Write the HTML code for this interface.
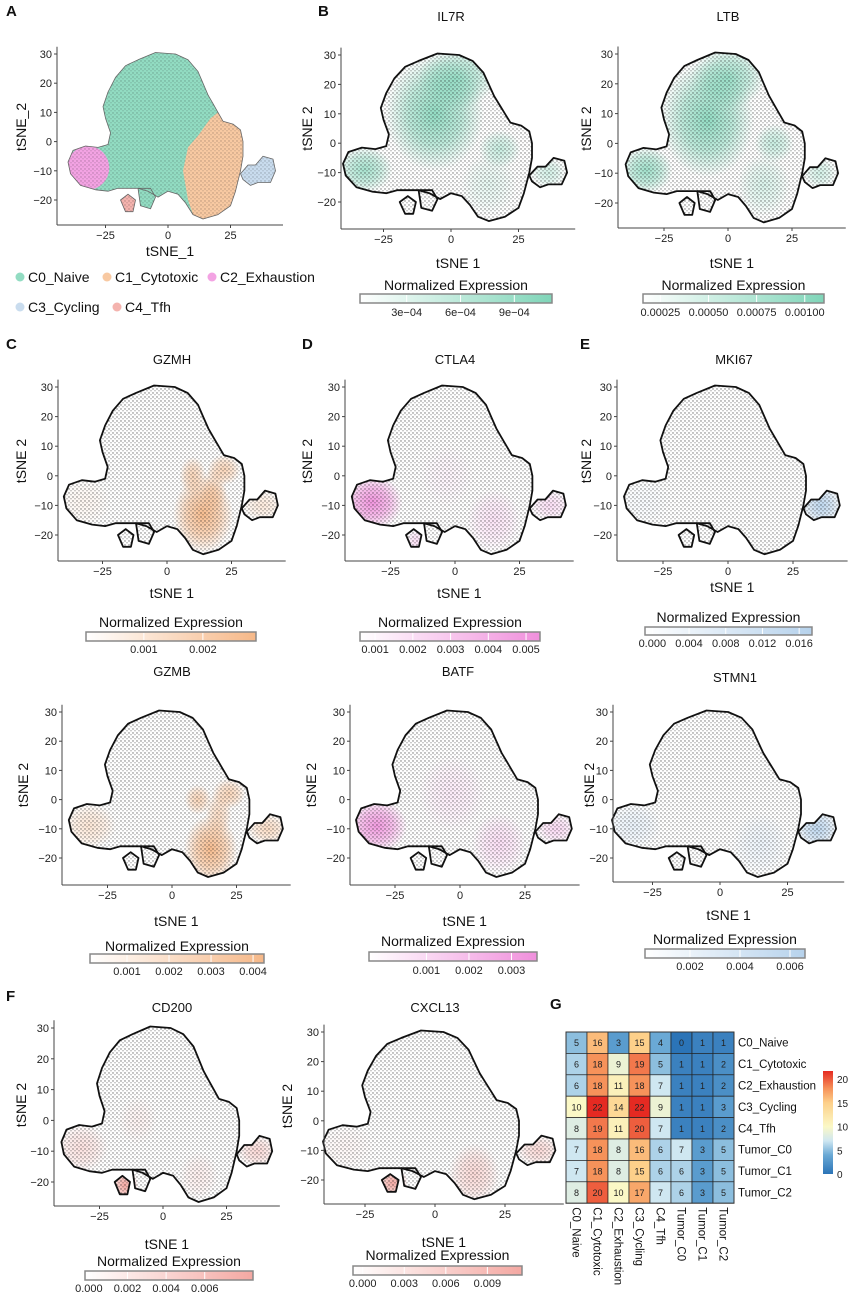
<!DOCTYPE html>
<html><head><meta charset="utf-8"><style>
html,body{margin:0;padding:0;background:#fff}
svg{display:block;font-family:"Liberation Sans",Arial,sans-serif}
</style></head><body>
<svg id="fig" width="851" height="1295" viewBox="0 0 851 1295" xmlns="http://www.w3.org/2000/svg">
<defs>
<pattern id="dots" width="4" height="4" patternUnits="userSpaceOnUse">
<circle cx="1" cy="1" r="0.7" fill="#111"/><circle cx="3" cy="2.8" r="0.6" fill="#222"/>
</pattern>
</defs>
</svg>
<script>
// ---------- heatmap data (panel G) ----------
const hmRows = ["C0_Naive","C1_Cytotoxic","C2_Exhaustion","C3_Cycling","C4_Tfh","Tumor_C0","Tumor_C1","Tumor_C2"];
const hmCols = ["C0_Naive","C1_Cytotoxic","C2_Exhaustion","C3_Cycling","C4_Tfh","Tumor_C0","Tumor_C1","Tumor_C2"];
const hmRow0 = [5,16,3,15,4,0,1,1];
const hmRow1 = [6,18,9,19,5,1,1,2];
const hmRow2 = [6,18,11,18,7,1,1,2];
const hmRow3 = [10,22,14,22,9,1,1,3];
const hmRow4 = [8,19,11,20,7,1,1,2];
const hmRow5 = [7,18,8,16,6,7,3,5];
const hmRow6 = [7,18,8,15,6,6,3,5];
const hmRow7 = [8,20,10,17,7,6,3,5];
const hmScaleTicks = [0,5,10,15,20];
// ---------- tSNE axis ticks ----------
const xTicks = [-25,0,25];
const yTicks = [-20,-10,0,10,20,30];
// ---------- colourbar tick labels ----------
const cbIL7R = [3e-4,6e-4,9e-4], cbIL7RLab = ["3e\u221204","6e\u221204","9e\u221204"];
const cbLTB = [0.00025,0.0005,0.00075,0.001], cbLTBLab = ["0.00025","0.00050","0.00075","0.00100"];
const cbGZMH = [0.001,0.002], cbGZMHLab = ["0.001","0.002"];
const cbCTLA4 = [0.001,0.002,0.003,0.004,0.005], cbCTLA4Lab = ["0.001","0.002","0.003","0.004","0.005"];
const cbMKI67 = [0,0.004,0.008,0.012,0.016], cbMKI67Lab = ["0.000","0.004","0.008","0.012","0.016"];
const cbGZMB = [0.001,0.002,0.003,0.004], cbGZMBLab = ["0.001","0.002","0.003","0.004"];
const cbBATF = [0.001,0.002,0.003], cbBATFLab = ["0.001","0.002","0.003"];
const cbSTMN1 = [0.002,0.004,0.006], cbSTMN1Lab = ["0.002","0.004","0.006"];
const cbCD200 = [0,0.002,0.004,0.006], cbCD200Lab = ["0.000","0.002","0.004","0.006"];
const cbCXCL13 = [0,0.003,0.006,0.009], cbCXCL13Lab = ["0.000","0.003","0.006","0.009"];
// ---------- tSNE cluster outline (data coords) ----------
const shapeMain = [[-12,28],[-5,30.5],[3,30],[8,28],[12,24],[14,20],[16,16],[18,13],[20,10],[22,7],[26,6],[29,4],[30,0],[30,-5],[29,-10],[27,-17],[25,-22],[20,-25],[14,-26.5],[10,-25],[7,-21],[4,-18],[0,-17],[-4,-19],[-8,-17],[-12,-16],[-16,-16],[-20,-16],[-24,-17],[-29,-16.5],[-35,-15],[-39,-11],[-40,-7],[-38,-3],[-33,-1.5],[-28,-2],[-24,-1],[-23,3],[-25,8],[-26,12],[-24,17],[-21,22],[-17,26]];
const shapeLow = [[-12,-16],[-7,-16],[-5,-19],[-7,-23],[-11,-22]];
const shapeTfh = [[-19,-20],[-16,-18],[-13,-20],[-14,-24],[-17,-24]];
const shapeCyc = [[29,-11],[32,-8],[35,-8],[38,-5],[42,-6],[43,-10],[41,-14],[36,-14],[33,-15],[30,-13]];
const shapeOrange = [[8,-20],[6,-10],[8,-2],[12,2],[17,8],[20,10],[22,7],[26,6],[29,4],[30,0],[30,-5],[29,-10],[27,-17],[25,-22],[20,-25],[14,-26.5],[10,-25]];
// highlights: [cx, cy, rx, ry, opacity]
const hlIL7R = [[-6,10,14,15,0.85],[2,22,11,8,0.75],[-32,-9,8,6,0.7],[18,-2,6,5,0.45],[14,-14,8,8,0.2],[36,-10,5,4,0.35]];
const hlLTB = [[-8,8,14,15,0.85],[0,22,11,8,0.75],[-32,-9,8,6,0.75],[18,0,6,5,0.45],[14,-14,8,8,0.3],[36,-10,5,4,0.35]];
const hlGZMH = [[14,-13,9,10,0.95],[10,0,4,5,0.6],[22,2,5,4,0.6],[18,-5,4,6,0.5],[37,-10,6,4,0.3],[-32,-9,8,6,0.12]];
const hlCTLA4 = [[-32,-9,9,7,0.95],[15,-15,8,8,0.25],[37,-10,6,4,0.3],[-15,-22,3,3,0.3],[-3,0,8,8,0.1]];
const hlMKI67 = [[36,-10,6,5,0.9],[-32,-9,8,6,0.1]];
const hlGZMB = [[15,-17,8,9,0.95],[10,0,4,4,0.6],[22,2,5,4,0.6],[18,-5,4,6,0.5],[37,-10,6,4,0.5],[-32,-9,8,6,0.35]];
const hlBATF = [[-32,-9,9,7,0.9],[15,-15,8,8,0.3],[37,-10,6,4,0.35],[-3,2,10,10,0.18]];
const hlSTMN1 = [[36,-10,6,5,0.9],[-32,-9,8,6,0.3],[15,-15,8,8,0.25]];
const hlCD200 = [[-15,-21,4,4,1],[-32,-9,8,6,0.35],[37,-10,6,4,0.45],[-10,0,6,6,0.15],[14,-18,6,6,0.2]];
const hlCXCL13 = [[-15,-21,4,4,1],[14,-18,7,8,0.45],[37,-10,6,4,0.45],[-32,-9,8,6,0.1]];

const NS = "http://www.w3.org/2000/svg";
const svg = document.getElementById("fig");
const defs = svg.querySelector("defs");
function el(tag, parent){const e=document.createElementNS(NS,tag);parent.appendChild(e);return e;}
function txt(parent, x, y, s, size, anchor, extra){
  const t = el("text", parent);
  t.setAttribute("x", x); t.setAttribute("y", y);
  t.setAttribute("font-size", size);
  t.setAttribute("text-anchor", anchor || "middle");
  t.setAttribute("fill", "#111");
  if (extra) for (const k in extra) t.setAttribute(k, extra[k]);
  t.textContent = s;
  return t;
}
let gid = 0;
function minus(v){return v<0 ? "\u2212"+Math.abs(v) : String(v);}

function drawPanel(p){
  const g = el("g", svg);
  
  
  const X = d => p.x0 + d*p.sx;
  const Y = d => p.y30 + (30-d)*p.sy;
  const pts = arr => arr.map(q => X(q[0]).toFixed(1)+","+Y(q[1]).toFixed(1)).join(" ");
  const shapes = [shapeMain, shapeLow, shapeTfh, shapeCyc];
  const id = "clip" + (gid++);
  const cp = el("clipPath", defs); cp.setAttribute("id", id);
  shapes.forEach(s => { const pg = el("polygon", cp); pg.setAttribute("points", pts(s)); });
  const base = el("g", g);
  
  
  if (p.clusters) {
    const fills = [["#92dcc2",shapeMain],["#92dcc2",shapeLow],["#f4b3ae",shapeTfh],["#c9dcee",shapeCyc],["#f8c9a2",shapeOrange]];
    fills.forEach(f => { const pg = el("polygon", base); pg.setAttribute("points", pts(f[1])); pg.setAttribute("fill", f[0]); });
    const e = el("ellipse", base);
    e.setAttribute("cx", X(-32)); e.setAttribute("cy", Y(-9));
    e.setAttribute("rx", 8.5*p.sx); e.setAttribute("ry", 7.5*p.sy); e.setAttribute("fill", "#f3a3e3");
    e.setAttribute("clip-path", "url(#"+id+")");
  } else {
    shapes.forEach(s => { const pg = el("polygon", base); pg.setAttribute("points", pts(s)); pg.setAttribute("fill", "#fff"); });
  }
  if (p.hl) {
    const hg = el("g", g);
    hg.setAttribute("clip-path", "url(#"+id+")");
    
    
    p.hl.forEach(h => {
      const gr = el("radialGradient", defs); const gidd = "rg" + (gid++);
      gr.setAttribute("id", gidd);
      const s1 = el("stop", gr); s1.setAttribute("offset", "0"); s1.setAttribute("stop-color", p.color); s1.setAttribute("stop-opacity", h[4]);
      const s2 = el("stop", gr); s2.setAttribute("offset", "0.55"); s2.setAttribute("stop-color", p.color); s2.setAttribute("stop-opacity", h[4]*0.6);
      const s3 = el("stop", gr); s3.setAttribute("offset", "1"); s3.setAttribute("stop-color", p.color); s3.setAttribute("stop-opacity", 0);
      const e = el("ellipse", hg);
      e.setAttribute("cx", X(h[0])); e.setAttribute("cy", Y(h[1]));
      e.setAttribute("rx", h[2]*p.sx*1.3); e.setAttribute("ry", h[3]*p.sy*1.3);
      e.setAttribute("fill", "url(#"+gidd+")");
    });
  }
  const tex = el("rect", g);
  tex.setAttribute("x", X(-42)); tex.setAttribute("y", Y(32));
  tex.setAttribute("width", 86*p.sx); tex.setAttribute("height", 62*p.sy);
  tex.setAttribute("fill", "url(#dots)"); tex.setAttribute("opacity", p.clusters ? 0.3 : 0.6);
  tex.setAttribute("clip-path", "url(#"+id+")");
  shapes.forEach(s => {
    const pg = el("polygon", g);
    pg.setAttribute("points", pts(s));
    pg.setAttribute("fill", "none");
    pg.setAttribute("stroke", p.clusters ? "#666" : "#111");
    pg.setAttribute("stroke-width", p.clusters ? 0.8 : 1.8);
    pg.setAttribute("stroke-linejoin", "round");
  });
  const ax = el("g", g);
  
  
  const l1 = el("line", ax); l1.setAttribute("x1", p.axisX); l1.setAttribute("x2", p.axisX); l1.setAttribute("y1", Y(32.5)); l1.setAttribute("y2", p.axisY);
  const l2 = el("line", ax); l2.setAttribute("x1", p.axisX); l2.setAttribute("x2", X(46)); l2.setAttribute("y1", p.axisY); l2.setAttribute("y2", p.axisY);
  [l1,l2].forEach(l => { l.setAttribute("stroke", "#444"); l.setAttribute("stroke-width", 1); });
  yTicks.forEach(v => {
    const tk = el("line", ax); tk.setAttribute("x1", p.axisX-3); tk.setAttribute("x2", p.axisX); tk.setAttribute("y1", Y(v)); tk.setAttribute("y2", Y(v)); tk.setAttribute("stroke", "#444");
    const t = txt(ax, p.axisX-5, Y(v)+4, minus(v), 11, "end", {fill:"#222"});
    
    
  });
  xTicks.forEach(v => {
    const tk = el("line", ax); tk.setAttribute("x1", X(v)); tk.setAttribute("x2", X(v)); tk.setAttribute("y1", p.axisY); tk.setAttribute("y2", p.axisY+3); tk.setAttribute("stroke", "#444");
    const t = txt(ax, X(v), p.axisY+14, minus(v), 11, "middle", {fill:"#222"});
    
    
  });
  const xl = txt(g, (p.axisX + X(46))/2, p.xlY, p.xlab || "tSNE 1", 14);
  
  
  const yc = Y(5);
  const yl = txt(g, p.ylX, yc, p.ylab || "tSNE 2", 14, "middle", {transform:"rotate(-90 "+p.ylX+" "+yc+")"});
  
  
  if (p.title) {
    const tt = txt(g, p.titleX, p.titleY, p.title, 13);
    
    
  }
  if (p.cb) drawColorbar(p.cb, p.color);
}

function drawColorbar(c, color){
  const g = el("g", svg);
  
  
  const gr = el("linearGradient", defs); const id = "lg" + (gid++);
  gr.setAttribute("id", id);
  const s1 = el("stop", gr); s1.setAttribute("offset", "0"); s1.setAttribute("stop-color", "#fff");
  const s2 = el("stop", gr); s2.setAttribute("offset", "1"); s2.setAttribute("stop-color", color);
  const t = txt(g, (c.x1+c.x2)/2, c.ty, "Normalized Expression", 14);
  
  
  const r = el("rect", g);
  r.setAttribute("x", c.x1); r.setAttribute("y", c.y1); r.setAttribute("width", c.x2-c.x1); r.setAttribute("height", c.y2-c.y1);
  r.setAttribute("fill", "url(#"+id+")"); r.setAttribute("stroke", "#888"); r.setAttribute("stroke-width", 1.5);
  const scale = v => c.x1 + (v - c.min)/(c.max - c.min)*(c.x2-c.x1);
  c.vals.forEach((v,i) => {
    const tk = el("line", g); tk.setAttribute("x1", scale(v)); tk.setAttribute("x2", scale(v)); tk.setAttribute("y1", c.y1+1); tk.setAttribute("y2", c.y2-1); tk.setAttribute("stroke", "#fff"); tk.setAttribute("stroke-width", 1);
    const lt = txt(g, scale(v), c.ly, c.labs[i], 11, "middle", {fill:"#222"});
    
    
  });
}

const TEAL="#7fd5b8", ORANGE="#f6b888", PINK="#f08fdc", BLUE="#b6d2ec", SALMON="#f4a8a2";
const panels = [
  {key:"clusters", clusters:true, x0:168, sx:2.5, y30:54, sy:2.92, axisX:57, axisY:225, xlY:256, ylX:26, xlab:"tSNE_1", ylab:"tSNE_2"},
  {key:"il7r", title:"IL7R", titleX:451, titleY:21, color:TEAL, hl:hlIL7R, x0:451, sx:2.7, y30:55, sy:2.94, axisX:341, axisY:229, xlY:268, ylX:312,
   cb:{x1:360,x2:552,y1:294,y2:303,ty:290,ly:316,min:0.4e-4,max:11.1e-4,vals:cbIL7R,labs:cbIL7RLab}},
  {key:"ltb", title:"LTB", titleX:728, titleY:21, color:TEAL, hl:hlLTB, x0:728, sx:2.56, y30:54, sy:2.98, axisX:618, axisY:228, xlY:268, ylX:591,
   cb:{x1:643,x2:824,y1:294,y2:303,ty:290,ly:316,min:0.00016,max:0.0011,vals:cbLTB,labs:cbLTBLab}},
  {key:"gzmh", title:"GZMH", titleX:172, titleY:364, color:ORANGE, hl:hlGZMH, x0:167, sx:2.58, y30:387, sy:2.96, axisX:58, axisY:561, xlY:598, ylX:26,
   cb:{x1:86,x2:256,y1:632,y2:641,ty:627,ly:653,min:0.00002,max:0.0029,vals:cbGZMH,labs:cbGZMHLab}},
  {key:"ctla4", title:"CTLA4", titleX:455, titleY:364, color:PINK, hl:hlCTLA4, x0:455, sx:2.58, y30:387, sy:2.96, axisX:345, axisY:561, xlY:598, ylX:312,
   cb:{x1:360,x2:540,y1:632,y2:641,ty:627,ly:653,min:0.0006,max:0.00537,vals:cbCTLA4,labs:cbCTLA4Lab}},
  {key:"mki67", title:"MKI67", titleX:734, titleY:364, color:BLUE, hl:hlMKI67, x0:728, sx:2.6, y30:387, sy:2.96, axisX:617, axisY:561, xlY:592, ylX:591,
   cb:{x1:645,x2:812,y1:627,y2:635,ty:622,ly:647,min:-0.0008,max:0.0174,vals:cbMKI67,labs:cbMKI67Lab}},
  {key:"gzmb", title:"GZMB", titleX:172, titleY:676, color:ORANGE, hl:hlGZMB, x0:172, sx:2.58, y30:712, sy:2.92, axisX:62, axisY:885, xlY:926, ylX:28,
   cb:{x1:90,x2:264,y1:954,y2:963,ty:951,ly:975,min:0.00012,max:0.00426,vals:cbGZMB,labs:cbGZMBLab}},
  {key:"batf", title:"BATF", titleX:458, titleY:676, color:PINK, hl:hlBATF, x0:460, sx:2.6, y30:712, sy:2.92, axisX:350, axisY:885, xlY:926, ylX:316,
   cb:{x1:369,x2:537,y1:952,y2:961,ty:946,ly:974,min:-0.00035,max:0.0036,vals:cbBATF,labs:cbBATFLab}},
  {key:"stmn1", title:"STMN1", titleX:735, titleY:682, color:BLUE, hl:hlSTMN1, x0:720, sx:2.7, y30:712, sy:2.92, axisX:613, axisY:882, xlY:920, ylX:594,
   cb:{x1:645,x2:805,y1:949,y2:958,ty:944,ly:970,min:0.0002,max:0.0066,vals:cbSTMN1,labs:cbSTMN1Lab}},
  {key:"cd200", title:"CD200", titleX:172, titleY:1012, color:SALMON, hl:hlCD200, x0:163, sx:2.54, y30:1028, sy:3.08, axisX:54, axisY:1206, xlY:1249, ylX:26,
   cb:{x1:85,x2:253,y1:1271,y2:1280,ty:1266,ly:1292,min:-0.0002,max:0.0085,vals:cbCD200,labs:cbCD200Lab}},
  {key:"cxcl13", title:"CXCL13", titleX:435, titleY:1012, color:SALMON, hl:hlCXCL13, x0:435, sx:2.8, y30:1032, sy:2.96, axisX:324, axisY:1204, xlY:1247, ylX:292,
   cb:{x1:353,x2:522,y1:1266,y2:1275,ty:1260,ly:1287,min:-0.0007,max:0.0115,vals:cbCXCL13,labs:cbCXCL13Lab}}
];
panels.forEach(drawPanel);

const legNames = ["C0_Naive","C1_Cytotoxic","C2_Exhaustion","C3_Cycling","C4_Tfh"];
const legColors = ["#92dcc2","#f8c9a2","#f3a3e3","#c9dcee","#f4b3ae"];
const legPos = [[20,277],[107,277],[212,277],[20,307],[117,307]];
legNames.forEach((n,i) => {
  const g = el("g", svg);
  
  
  const c = el("circle", g); c.setAttribute("cx", legPos[i][0]); c.setAttribute("cy", legPos[i][1]); c.setAttribute("r", 4.5); c.setAttribute("fill", legColors[i]);
  txt(g, legPos[i][0]+8, legPos[i][1]+5, n, 14, "start");
});

[["A",6,16],["B",318,16],["C",6,349],["D",302,349],["E",580,349],["F",6,1001],["G",550,1009]].forEach(L => {
  const t = txt(svg, L[1], L[2], L[0], 15, "start", {"font-weight":"bold"});
  
  
});

const hmVals = [hmRow0,hmRow1,hmRow2,hmRow3,hmRow4,hmRow5,hmRow6,hmRow7];
const hmStops = [[0,[43,116,183]],[4,[106,169,213]],[7,[207,231,241]],[10,[251,248,198]],[15,[253,208,138]],[18,[246,146,90]],[22,[229,42,34]]];
function hmColor(v){
  for (let i=0;i<hmStops.length-1;i++){
    const a=hmStops[i], b=hmStops[i+1];
    if (v<=b[0]) { const t=(v-a[0])/(b[0]-a[0]); const c=a[1].map((x,k)=>Math.round(x+(b[1][k]-x)*t)); return "rgb("+c.join(",")+")"; }
  }
  return "rgb(229,42,34)";
}
const HX = 566, HY = 1032, CW = 21, CH = 21.4;
const cx = j => HX + j*CW, cy = i => HY + i*CH;
const hg = el("g", svg);


hmVals.forEach((row,i) => row.forEach((v,j) => {
  const r = el("rect", hg);
  
  
  r.setAttribute("x", cx(j)); r.setAttribute("y", cy(i)); r.setAttribute("width", CW); r.setAttribute("height", CH);
  r.setAttribute("fill", hmColor(v)); r.setAttribute("stroke", "#222"); r.setAttribute("stroke-width", 0.7);
  const t = txt(hg, cx(j)+CW/2, cy(i)+CH/2+3.5, String(v), 9, "middle", {fill:"#222"});
  
  
}));
const hb = el("rect", hg);
hb.setAttribute("x", HX); hb.setAttribute("y", HY); hb.setAttribute("width", CW*hmCols.length); hb.setAttribute("height", CH*hmRows.length);
hb.setAttribute("fill", "none"); hb.setAttribute("stroke", "#333"); hb.setAttribute("stroke-width", 1);
hmRows.forEach((n,i) => {
  const t = txt(svg, HX + CW*hmCols.length + 4, cy(i)+CH/2+4, n, 11.5, "start");
  
  
});
hmCols.forEach((n,j) => {
  const x = cx(j)+CW/2 - 4, y = HY + CH*hmRows.length + 4;
  const t = txt(svg, x, y, n, 11.5, "start", {transform:"rotate(90 "+x+" "+y+")"});
  
  
});
const sg = el("linearGradient", defs); sg.setAttribute("id", "hmgrad");
sg.setAttribute("x1","0"); sg.setAttribute("y1","1"); sg.setAttribute("x2","0"); sg.setAttribute("y2","0");
const SMAX = 21.7;
hmStops.forEach(s => { const st = el("stop", sg); st.setAttribute("offset", Math.min(1, s[0]/SMAX)); st.setAttribute("stop-color", "rgb("+s[1].join(",")+")"); });
const sb = el("rect", svg);


const SB_T = 1071, SB_B = 1174;
sb.setAttribute("x", 823); sb.setAttribute("y", SB_T); sb.setAttribute("width", 10); sb.setAttribute("height", SB_B-SB_T); sb.setAttribute("fill", "url(#hmgrad)");
hmScaleTicks.forEach(v => {
  const y = SB_B - v/SMAX*(SB_B-SB_T);
  const t = txt(svg, 837, y+4, String(v), 10, "start", {fill:"#222"});
  
  
});
</script>
</body></html>
